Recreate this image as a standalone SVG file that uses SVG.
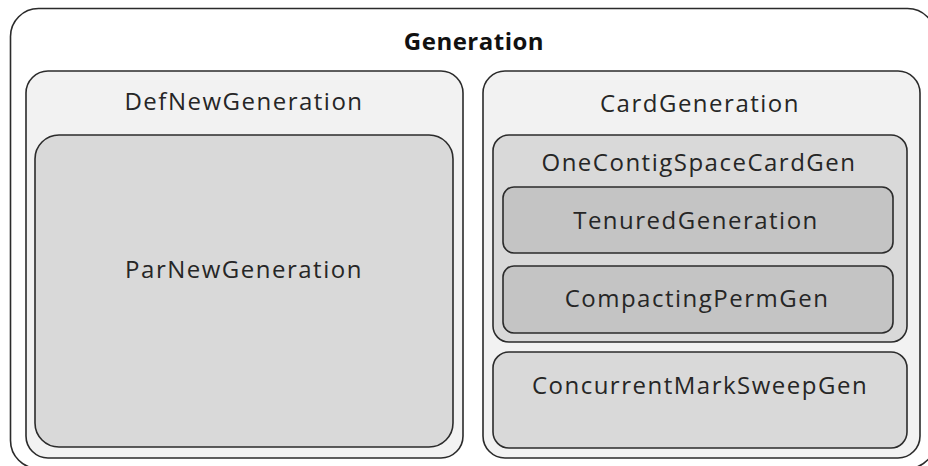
<svg xmlns="http://www.w3.org/2000/svg" width="928" height="466" viewBox="0 0 928 466">
  <style>
    .box { stroke: #2b2b2b; stroke-width: 1.6; }
    .l0 { fill: #ffffff; }
    .l1 { fill: #f2f2f2; }
    .l2 { fill: #d9d9d9; }
    .l3 { fill: #c4c4c4; }
    .t { font-family: "Open Sans", "Noto Sans", sans-serif; font-size: 24px; fill: #262626; text-anchor: middle; letter-spacing: 1.5px; }
    .title { font-family: "Open Sans", "Noto Sans", sans-serif; font-size: 24px; font-weight: bold; fill: #111111; text-anchor: middle; letter-spacing: 0.5px; }
  </style>
  <rect x="0" y="0" width="928" height="466" fill="#ffffff"/>
  <g id="generation">
    <rect class="box l0" x="10.5" y="8.5" width="925" height="460" rx="28" ry="28"/>
    <text class="title" x="474" y="50">Generation</text>
  </g>
  <g id="defnewgeneration">
    <rect class="box l1" x="26" y="71" width="437" height="387" rx="22" ry="22"/>
    <text class="t" x="244" y="110">DefNewGeneration</text>
  </g>
  <g id="parnewgeneration">
    <rect class="box l2" x="35" y="135" width="418" height="312" rx="24" ry="24"/>
    <text class="t" x="244" y="278">ParNewGeneration</text>
  </g>
  <g id="cardgeneration">
    <rect class="box l1" x="483" y="71" width="437" height="387" rx="22" ry="22"/>
    <text class="t" x="700" y="112">CardGeneration</text>
  </g>
  <g id="onecontigspacecardgen">
    <rect class="box l2" x="493" y="135" width="414" height="207" rx="16" ry="16"/>
    <text class="t" x="699" y="171">OneContigSpaceCardGen</text>
  </g>
  <g id="tenuredgeneration">
    <rect class="box l3" x="503" y="187" width="390" height="66" rx="11" ry="11"/>
    <text class="t" x="696" y="229">TenuredGeneration</text>
  </g>
  <g id="compactingpermgen">
    <rect class="box l3" x="503" y="266" width="390" height="67" rx="11" ry="11"/>
    <text class="t" x="697" y="307">CompactingPermGen</text>
  </g>
  <g id="concurrentmarksweepgen">
    <rect class="box l2" x="493" y="352" width="414" height="96" rx="16" ry="16"/>
    <text class="t" x="700" y="394">ConcurrentMarkSweepGen</text>
  </g>
  <g id="connectors"/>
</svg>
